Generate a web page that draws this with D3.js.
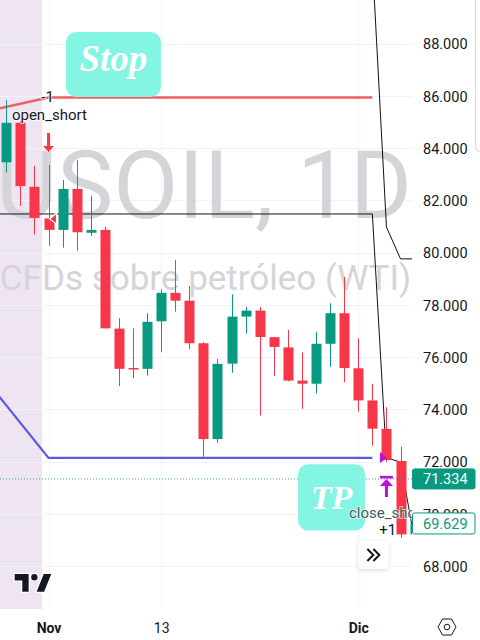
<!DOCTYPE html>
<html><head><meta charset="utf-8">
<script src="https://cdn.jsdelivr.net/npm/d3@7"></script>
<style>html,body{margin:0;padding:0;background:#fff;overflow:hidden}svg{display:block}text{font-family:Roboto,sans-serif}</style>
</head><body><svg id="c" width="480" height="640"></svg>
<script>
const candleIndex=d3.range(0,30);
const opens=[83.46,84.97,82.52,81.31,80.87,82.44,80.76,80.87,77.09,75.58,75.55,77.37,78.46,78.16,76.53,72.86,75.75,77.55,77.78,76.76,76.37,75.10,74.98,76.51,77.68,75.57,74.34,73.25,72.02,69.21];
const highs=[85.84,85.04,83.32,83.36,82.78,83.55,82.17,80.99,77.49,77.10,77.68,78.60,79.72,78.72,76.57,75.93,78.40,77.92,77.91,76.77,77.04,76.18,76.97,78.06,79.07,76.72,74.98,74.08,72.57,69.70];
const lows=[83.06,81.79,80.70,80.26,80.19,80.07,80.64,77.10,74.89,75.19,75.29,76.19,77.74,76.30,72.12,72.72,75.40,76.90,73.76,75.28,75.07,74.02,74.61,75.63,75.03,73.91,72.61,71.99,69.08,69.10];
const closes=[84.97,82.55,81.33,80.87,82.44,80.78,80.87,77.10,75.55,75.53,77.35,78.46,78.16,76.53,72.86,75.74,77.55,77.78,76.77,76.39,75.10,74.98,76.51,77.68,75.58,74.34,73.26,72.06,69.21,69.63];
const priceTicks=[68,70,72,74,76,78,80,82,84,86,88];
const timeTickIndex=[3,11,25];
const timeTickLabels=["Nov","13","Dic"];
const timeTickBold=[true,false,true];
const redLineX=[-1,3,26],redLineY=[85.46,85.94,85.94];
const blueLineX=[-1,3,26],blueLineY=[74.82,72.14,72.14];
const blackAX=[-1,26,27,28,29],blackAY=[81.48,81.48,72.14,71.98,68.99];
const blackBX=[26,27,28,29],blackBY=[91.13,80.98,79.76,79.76];
const lastPrice=71.334,closePrice=69.629;

const C={red:"#f7364a",green:"#089981",grid:"#f0f3fa",wm:"#d4d4d9",shade:"#efe4f1",ink:"#131722",teal:"#84f4e3",purple:"#bb10dc",blue:"#5b5bdc",redLine:"#ee5f62"};
const plotW=412,plotH=609;
const x=d3.scaleLinear().domain([0,29]).range([6.3,414.6]);
const y=d3.scaleLinear().domain([68,88]).range([566,43.7]);
const svg=d3.select("#c");
const defs=svg.append("defs");
defs.append("clipPath").attr("id","plot").append("rect").attr("width",plotW).attr("height",plotH);
const shadow=defs.append("filter").attr("id","sh").attr("x","-30%").attr("y","-30%").attr("width","160%").attr("height","160%");
shadow.append("feDropShadow").attr("dx",0).attr("dy",1).attr("stdDeviation",2).attr("flood-color","#000").attr("flood-opacity",.16);

const plot=svg.append("g").attr("clip-path","url(#plot)");
// session shading
plot.append("rect").attr("x",0).attr("y",0).attr("width",x(2.55)).attr("height",plotH).attr("fill",C.shade);
// grid
plot.append("g").selectAll("line").data(priceTicks).join("line")
 .attr("x1",0).attr("x2",plotW).attr("y1",d=>Math.round(y(d))+.5).attr("y2",d=>Math.round(y(d))+.5).attr("stroke",C.grid);
plot.append("g").selectAll("line").data(timeTickIndex).join("line")
 .attr("y1",0).attr("y2",plotH).attr("x1",d=>Math.round(x(d))+.5).attr("x2",d=>Math.round(x(d))+.5).attr("stroke",C.grid);
// watermark
plot.append("text").attr("x",204).attr("y",y(81.33)).attr("text-anchor","middle").attr("font-size",94.5).attr("fill",C.wm).text("USOIL, 1D");
plot.append("text").attr("x",205.5).attr("y",y(78.56)).attr("text-anchor","middle").attr("font-size",35).attr("fill",C.wm).text("CFDs sobre petróleo (WTI)");
// lines, under the candles
const ln=d3.line();
const path=(xs,ys,stroke,w)=>plot.append("path").attr("d",ln(xs.map((v,i)=>[x(v),y(ys[i])]))).attr("fill","none").attr("stroke",stroke).attr("stroke-width",w);
path(redLineX,redLineY,C.redLine,2.4);
path(blueLineX,blueLineY,C.blue,2.2);
path(blackAX,blackAY,"#111",1);
path(blackBX,blackBY,"#111",1);
// candles
const candles=plot.append("g").selectAll("g").data(candleIndex).join("g");
const col=i=>closes[i]>=opens[i]?C.green:C.red;
candles.append("line").attr("x1",i=>Math.round(x(i))+.5).attr("x2",i=>Math.round(x(i))+.5)
 .attr("y1",i=>y(highs[i])).attr("y2",i=>y(lows[i])).attr("stroke",col).attr("stroke-width",1);
candles.append("rect").attr("x",i=>Math.round(x(i))-4.5).attr("width",10)
 .attr("y",i=>y(Math.max(opens[i],closes[i]))).attr("height",i=>Math.max(1.5,Math.abs(y(opens[i])-y(closes[i])))).attr("fill",col);
// last price dotted
plot.append("line").attr("x1",0).attr("x2",plotW).attr("y1",y(lastPrice)).attr("y2",y(lastPrice)).attr("stroke",C.green).attr("stroke-dasharray","1 2").attr("stroke-opacity",.8);
// annotation boxes
const box=(i0,i1,p0,p1,label,fs,by)=>{
 plot.append("rect").attr("x",x(i0)).attr("width",x(i1)-x(i0)).attr("y",y(p0)).attr("height",y(p1)-y(p0)).attr("rx",10).attr("fill",C.teal);
 plot.append("text").attr("x",(x(i0)+x(i1))/2).attr("y",y(by)).attr("text-anchor","middle").attr("style","font-family:'Liberation Serif',serif").attr("font-weight",700).attr("font-style","italic").attr("font-size",fs).attr("fill","#fff").text(label);
};
box(4.24,10.98,88.45,85.96,"Stop",37,86.94);
box(20.72,25.48,71.9,69.36,"TP",34,70.2);
// labels
const label=(i,p,t,anchor,color)=>plot.append("text").attr("x",x(i)).attr("y",y(p)).attr("text-anchor",anchor||"start").attr("font-size",15).attr("fill",color||C.ink)
 .attr("stroke","#fff").attr("stroke-width",2).attr("stroke-opacity",.7).attr("paint-order","stroke").text(t);
label(2.93,85.75,"-1","middle");
label(0.4,85.06,"open_short");
label(24.34,69.84,"close_short","start","#3f5a5c");
label(26.49,69.19,"+1");
// signal arrows
plot.append("g").attr("transform",`translate(${x(3)},${y(84.58)})`).call(g=>{
 g.append("path").attr("d","M-6.5 12.5H6.5L0 19.5Z").attr("fill",C.red).attr("stroke","#fff").attr("stroke-width",1);
 g.append("rect").attr("x",-1.5).attr("y",0).attr("width",3).attr("height",14).attr("fill",C.red);
});
plot.append("path").attr("transform",`translate(${x(3)},${y(81.29)})`).attr("d","M1 0L8 -6V5Z").attr("fill",C.red).attr("stroke","#fff").attr("stroke-width",1.2);
plot.append("path").attr("transform",`translate(${x(27)},${y(72.14)})`).attr("d","M-6.5 -6L0.5 0L-6.5 5Z").attr("fill",C.purple);
plot.append("g").attr("transform",`translate(${x(27)},${y(71.45)})`).call(g=>{
 g.append("rect").attr("x",-6.5).attr("y",0).attr("width",13).attr("height",2.6).attr("fill",C.purple);
 g.append("path").attr("d","M0 3L6.5 10H1.5V21H-1.5V10H-6.5Z").attr("fill",C.purple);
});
// logo
plot.append("path").attr("transform",`translate(${x(0)+5.2},${y(68)+-0.2}) scale(1.27)`).attr("d","M14 6H2v6h6v9h6V6zm12 15h-7l6-15h7l-6 15zm-8-9a3 3 0 1 0 0-6 3 3 0 0 0 0 6z").attr("fill",C.ink).attr("stroke","#fff").attr("stroke-width",1);
// right axis
const yAxis=svg.append("g").attr("transform",`translate(423,0)`).call(d3.axisRight(y).tickValues(priceTicks).tickSize(0).tickPadding(0).tickFormat(d3.format(".3f")));
yAxis.select(".domain").remove();
yAxis.selectAll("text").attr("font-size",14.5).attr("font-family","Roboto,sans-serif").attr("fill",C.ink).attr("dy","0.36em");
// price tags
const tag=(p,fill,stroke,txt,h)=>{
 const g=svg.append("g").attr("transform",`translate(412,${y(p)})`);
 g.append("rect").attr("x",.5).attr("y",-h/2).attr("width",62.5).attr("height",h).attr("rx",2).attr("fill",fill).attr("stroke",stroke);
 g.append("text").attr("x",11).attr("dy","0.36em").attr("font-size",14.5).attr("fill",txt).text(d3.format(".3f")(p));
};
tag(lastPrice,C.green,C.green,"#fff",20);
tag(closePrice,"#fff",C.green,C.green,21);
// panel top right
svg.append("rect").attr("x",475.5).attr("y",-10).attr("width",20).attr("height",161.5).attr("rx",4).attr("fill","#fff").attr("stroke","#d5d8df");
// scroll button
const b=svg.append("g").attr("transform",`translate(${x(26)+1},${y(68)-11})`);
b.append("rect").attr("x",-15).attr("y",-14).attr("width",30).attr("height",28).attr("rx",4).attr("fill","#fff").attr("filter","url(#sh)");
b.append("path").attr("d","M-6 -6L0 0L-6 6M0 -6L6 0L0 6").attr("fill","none").attr("stroke",C.ink).attr("stroke-width",2);
// time axis
const xAxis=svg.append("g").attr("transform","translate(0,609)").call(d3.axisBottom(x).tickValues(timeTickIndex).tickSize(0).tickPadding(0).tickFormat((d,i)=>timeTickLabels[i]));
xAxis.select(".domain").remove();
xAxis.selectAll("text").attr("y",24).attr("dy",0).attr("font-size",14).attr("font-family","Roboto,sans-serif").attr("fill",C.ink).attr("font-weight",(d,i)=>timeTickBold[i]?700:400);
// settings icon
const s=svg.append("g").attr("transform","translate(447,627)").attr("fill","none").attr("stroke",C.ink);
s.append("path").attr("d",d3.line()([[-9,0],[-4.5,-8],[4.5,-8],[9,0],[4.5,8],[-4.5,8]])+"Z");
s.append("circle").attr("r",2.8);
</script></body></html>
